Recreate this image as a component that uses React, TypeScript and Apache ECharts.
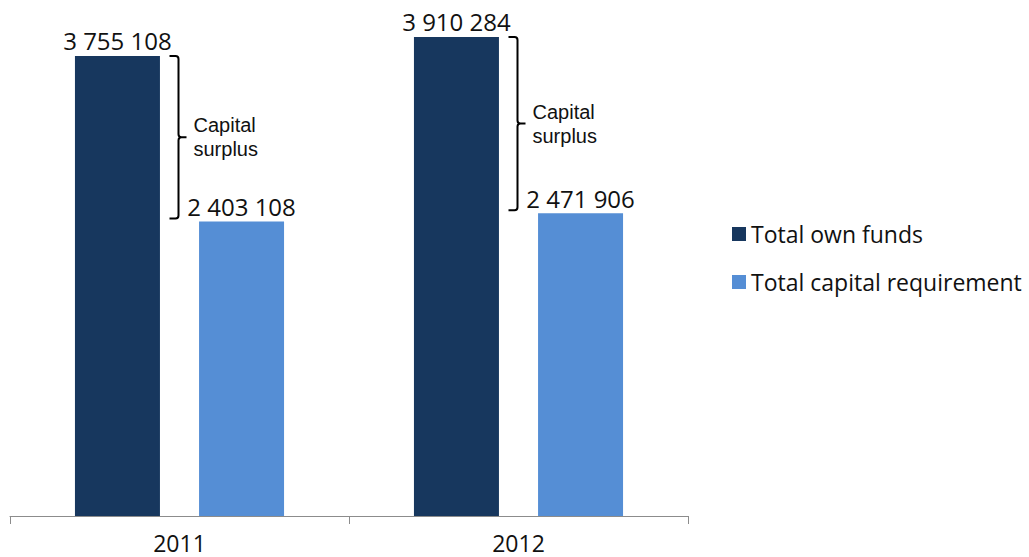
import React, { useEffect, useRef } from "react";
import * as echarts from "echarts";

const categories = ["2011", "2012"];
const ownFunds = [3755108, 3910284];
const capitalRequirement = [2403108, 2471906];
const seriesNames = ["Total own funds", "Total capital requirement"];
const bracketText = "Capital\nsurplus";

const FONT = "'Open Sans', sans-serif";

const fmt = (v: number) => String(v).replace(/\B(?=(\d{3})+(?!\d))/g, " ");

echarts.graphic.registerShape(
  "bracket",
  (echarts.graphic as any).extendShape({
    shape: { x: 0, y1: 0, y2: 100, w: 9, m: 9 },
    buildPath(ctx: any, s: any) {
      const r = 3;
      const ym = (s.y1 + s.y2) / 2;
      ctx.moveTo(s.x - s.w, s.y1);
      ctx.lineTo(s.x - r, s.y1);
      ctx.quadraticCurveTo(s.x, s.y1, s.x, s.y1 + r);
      ctx.lineTo(s.x, ym - r);
      ctx.quadraticCurveTo(s.x, ym, s.x + r, ym);
      ctx.lineTo(s.x + s.m, ym);
      ctx.moveTo(s.x + r, ym);
      ctx.quadraticCurveTo(s.x, ym, s.x, ym + r);
      ctx.lineTo(s.x, s.y2 - r);
      ctx.quadraticCurveTo(s.x, s.y2, s.x - r, s.y2);
      ctx.lineTo(s.x - s.w, s.y2);
    },
  })
);

export default function App() {
  const ref = useRef<HTMLDivElement>(null);
  useEffect(() => {
    if (!ref.current) return;
    const chart = echarts.init(ref.current, undefined, { renderer: "svg" });
    const labelStyle = {
      show: true,
      position: "top" as const,
      distance: 3,
      fontFamily: FONT,
      fontSize: 24,
      color: "#111",
      formatter: (p: any) => fmt(p.value),
    };
    chart.setOption({
      animation: false,
      backgroundColor: "#fff",
      grid: { left: 10, right: 341, top: 26, bottom: 41 },
      legend: {
        orient: "vertical",
        left: 727,
        top: 216,
        itemWidth: 14,
        itemHeight: 14,
        itemGap: 22,
        icon: "rect",
        textStyle: { fontFamily: FONT, fontSize: 23, color: "#111", lineHeight: 26 },
        data: seriesNames,
      },
      xAxis: {
        type: "category",
        data: categories,
        axisLine: { lineStyle: { color: "#8c8c8c", width: 1 } },
        axisTick: { show: true, length: 8, lineStyle: { color: "#8c8c8c" } },
        axisLabel: { fontFamily: FONT, fontSize: 23, color: "#111", margin: 15 },
      },
      yAxis: {
        type: "value",
        min: 0,
        max: 4000000,
        show: false,
        splitLine: { show: false },
      },
      series: [
        {
          name: seriesNames[0],
          type: "bar",
          data: ownFunds,
          barWidth: 85,
          barGap: "46%",
          itemStyle: { color: "#17375E" },
          label: labelStyle,
        },
        {
          name: seriesNames[1],
          type: "bar",
          data: capitalRequirement,
          barWidth: 85,
          itemStyle: { color: "#558ED5" },
          label: labelStyle,
        },
      ],
    });

    const graphics: any[] = [];
    categories.forEach((_, i) => {
      const top = chart.convertToPixel({ gridIndex: 0 }, [i, ownFunds[i]]) as number[];
      const bot = chart.convertToPixel({ gridIndex: 0 }, [i, capitalRequirement[i]]) as number[];
      const x = top[0] - 1;
      const y1 = top[1];
      const y2 = bot[1] - 3;
      graphics.push({
        type: "bracket",
        shape: { x, y1, y2, w: 9, m: 8 },
        style: { stroke: "#000", lineWidth: 2, fill: null },
      });
      graphics.push({
        type: "text",
        x: x + 15,
        y: (y1 + y2) / 2,
        style: {
          text: bracketText,
          fontFamily: "'Liberation Sans', Arial, sans-serif",
          fontSize: 20,
          lineHeight: 24,
          fill: "#111",
          verticalAlign: "middle",
          align: "left",
        },
      });
    });
    chart.setOption({ graphic: graphics });

    return () => chart.dispose();
  }, []);
  return (
    <div
      ref={ref}
      style={{ position: "fixed", left: 0, top: 0, width: 1029, height: 557 }}
    />
  );
}
